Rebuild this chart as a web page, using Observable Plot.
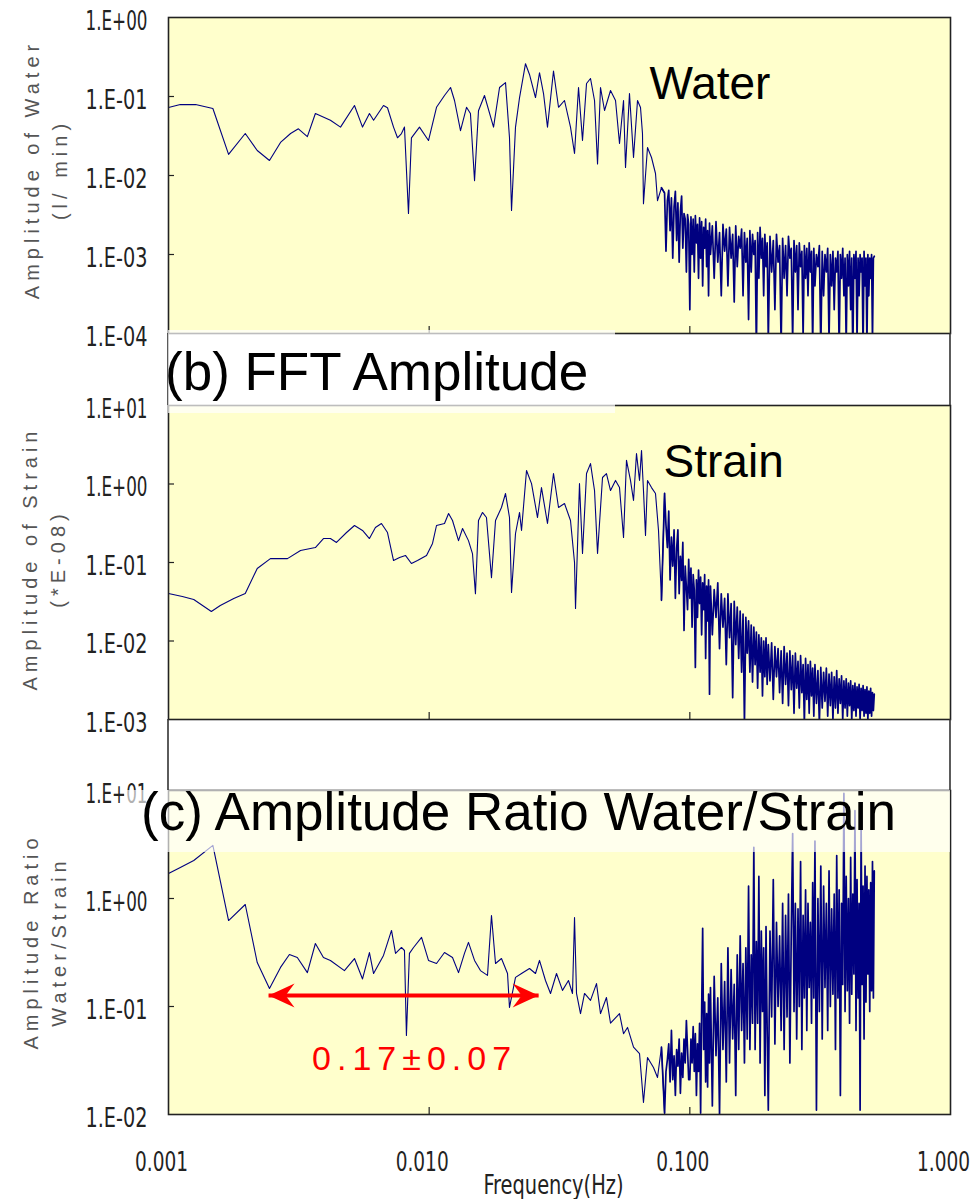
<!DOCTYPE html>
<html><head><meta charset="utf-8">
<script src="https://cdn.jsdelivr.net/npm/d3@7"></script>
<script src="https://cdn.jsdelivr.net/npm/@observablehq/plot@0.6"></script>
<style>
body{margin:0;background:#fff;}
#chart{position:relative;width:970px;height:1199px;overflow:hidden;background:#fff;}
#chart svg{position:absolute;left:0;overflow:visible;}
</style></head><body><div id="chart"></div>
<script>
// ---------- axes ----------
const xTickValues = [0.001, 0.01, 0.1, 1];
const xInnerTicks = [0.01, 0.1];
const waterTicks = [1e-4, 1e-3, 1e-2, 1e-1, 1];
const strainTicks = [1e-3, 1e-2, 1e-1, 1, 10];
const ratioTicks = [1e-2, 1e-1, 1, 10];

// ---------- low / mid frequency part (Hz, amplitude) ----------
const waterLow = [[0.00100,0.0726],[0.00111,0.079],[0.00127,0.079],[0.00148,0.0705],[0.00170,0.0185],[0.00197,0.034],[0.00219,0.0207],[0.00244,0.0155],[0.00269,0.0262],[0.00294,0.034],[0.00315,0.039],[0.00341,0.031],[0.00366,0.061],[0.00418,0.050],[0.00457,0.041],[0.00517,0.077],[0.00555,0.041],[0.00590,0.061],[0.00612,0.050],[0.00668,0.077],[0.00692,0.072],[0.00730,0.041],[0.00756,0.030],[0.00783,0.034],[0.00804,0.041],[0.00833,0.0033],[0.00855,0.030],[0.00918,0.041],[0.00994,0.0277],[0.01067,0.073],[0.01145,0.103],[0.01208,0.13],[0.01251,0.089],[0.01319,0.037],[0.01391,0.073],[0.01440,0.061],[0.01493,0.0086],[0.01546,0.066],[0.01630,0.103],[0.01766,0.041],[0.01862,0.13],[0.01963,0.150],[0.02033,0.030],[0.02070,0.0036],[0.02144,0.041],[0.02222,0.097],[0.02342,0.26],[0.02426,0.19],[0.02558,0.097],[0.02650,0.20],[0.02746,0.109],[0.02844,0.041],[0.02999,0.21],[0.03135,0.073],[0.03305,0.089],[0.03485,0.041],[0.03611,0.019],[0.03741,0.13],[0.03875,0.0277],[0.04015,0.146],[0.04159,0.169],[0.04309,0.089],[0.04425,0.014],[0.04543,0.13],[0.04707,0.0665],[0.04963,0.119],[0.05187,0.089],[0.05373,0.0254],[0.05567,0.089],[0.05666,0.0126],[0.05868,0.109],[0.06081,0.0169],[0.06299,0.089],[0.06468,0.0726],[0.06582,0.034],[0.06640,0.0044],[0.06880,0.0226],[0.07128,0.0169],[0.07384,0.0106],[0.07516,0.0048],[0.07784,0.0070]];

const strainLow = [[0.00100,0.0403],[0.00113,0.0369],[0.00125,0.0338],[0.00146,0.0238],[0.00158,0.0283],[0.00178,0.0348],[0.00197,0.0403],[0.00219,0.084],[0.00246,0.112],[0.00286,0.112],[0.00321,0.142],[0.00366,0.155],[0.00393,0.202],[0.00418,0.202],[0.00441,0.180],[0.00482,0.241],[0.00517,0.296],[0.00555,0.256],[0.00590,0.202],[0.00622,0.279],[0.00656,0.314],[0.00692,0.241],[0.00730,0.106],[0.00770,0.116],[0.00811,0.123],[0.00855,0.097],[0.00902,0.106],[0.00977,0.123],[0.01030,0.175],[0.01067,0.296],[0.01145,0.314],[0.01187,0.421],[0.01229,0.343],[0.01296,0.19],[0.01343,0.271],[0.01415,0.19],[0.01466,0.130],[0.01505,0.040],[0.01546,0.343],[0.01601,0.434],[0.01659,0.374],[0.01734,0.064],[0.01797,0.343],[0.01894,0.502],[0.01963,0.757],[0.02033,0.374],[0.02070,0.0415],[0.02144,0.234],[0.02222,0.434],[0.02261,0.256],[0.02363,1.486],[0.02470,1.01],[0.02604,0.374],[0.02697,0.90],[0.02844,0.314],[0.02999,1.36],[0.03135,0.502],[0.03305,0.565],[0.03485,0.343],[0.03611,0.10],[0.03643,0.026],[0.03773,1.01],[0.03875,0.130],[0.04015,1.36],[0.04159,1.82],[0.04309,0.826],[0.04425,0.13],[0.04624,1.21],[0.04788,1.36],[0.04963,0.826],[0.05187,1.11],[0.05373,0.90],[0.05567,0.208],[0.05715,2.0],[0.05920,1.11],[0.06081,0.617],[0.06243,2.45],[0.06412,1.11],[0.06526,2.67],[0.06640,0.826],[0.06760,0.221],[0.06880,1.11],[0.07128,0.90],[0.07384,0.757],[0.07583,0.256],[0.07784,0.033]];

const ratioLow = [[0.00100,1.70],[0.00111,1.94],[0.00125,2.25],[0.00148,3.10],[0.00170,0.625],[0.00197,0.88],[0.00219,0.255],[0.00244,0.147],[0.00269,0.23],[0.00291,0.303],[0.00312,0.284],[0.00341,0.206],[0.00366,0.383],[0.00393,0.284],[0.00418,0.267],[0.00473,0.215],[0.00517,0.278],[0.00555,0.18],[0.00590,0.316],[0.00612,0.202],[0.00668,0.297],[0.00717,0.506],[0.00743,0.31],[0.00783,0.352],[0.00804,0.33],[0.00818,0.054],[0.00840,0.31],[0.00871,0.352],[0.00935,0.436],[0.00994,0.267],[0.01067,0.25],[0.01145,0.316],[0.01229,0.284],[0.01296,0.206],[0.01366,0.31],[0.01415,0.392],[0.01493,0.267],[0.01573,0.215],[0.01674,0.194],[0.01734,0.697],[0.01797,0.25],[0.01894,0.278],[0.01998,0.202],[0.02033,0.098],[0.02144,0.186],[0.02261,0.202],[0.02426,0.225],[0.02558,0.202],[0.02650,0.267],[0.02794,0.174],[0.02921,0.132],[0.03080,0.202],[0.03247,0.141],[0.03423,0.174],[0.03547,0.132],[0.03611,0.667],[0.03675,0.132],[0.03807,0.086],[0.03945,0.132],[0.04159,0.114],[0.04385,0.163],[0.04543,0.086],[0.04788,0.121],[0.04963,0.070],[0.05373,0.086],[0.05567,0.056],[0.05767,0.064],[0.06081,0.042],[0.06412,0.0367],[0.06640,0.0129],[0.06880,0.0337],[0.07253,0.0272],[0.07516,0.022],[0.07784,0.042]];

// ---------- high frequency part: shared frequency bins (Hz) ----------
const highF = [
0.080,0.081,0.082,0.083,0.084,0.085,0.086,0.087,0.088,0.089,
0.090,0.091,0.092,0.093,0.094,0.095,0.096,0.097,0.098,0.099,
0.100,0.101,0.102,0.103,0.104,0.105,0.106,0.107,0.108,0.109,
0.110,0.111,0.112,0.113,0.114,0.115,0.116,0.117,0.118,0.119,
0.120,0.122,0.124,0.126,0.128,0.130,0.132,0.134,0.136,0.138,
0.140,0.142,0.144,0.146,0.148,0.150,0.152,0.154,0.156,0.158,
0.160,0.162,0.164,0.166,0.168,0.170,0.172,0.174,0.176,0.178,
0.180,0.182,0.184,0.186,0.188,0.190,0.192,0.194,0.196,0.198,
0.200,0.203,0.206,0.209,0.212,0.215,0.218,0.221,0.224,0.227,
0.230,0.233,0.236,0.239,0.242,0.245,0.248,0.251,0.254,0.257,
0.260,0.263,0.266,0.269,0.272,0.275,0.278,0.281,0.284,0.287,
0.290,0.293,0.296,0.299,0.302,0.306,0.310,0.314,0.318,0.322,
0.326,0.330,0.334,0.338,0.342,0.346,0.350,0.354,0.358,0.362,
0.366,0.370,0.374,0.378,0.382,0.386,0.390,0.394,0.398,0.402,
0.406,0.410,0.414,0.418,0.422,0.426,0.430,0.434,0.438,0.442,
0.446,0.450,0.454,0.458,0.462,0.466,0.470,0.474,0.478,0.482,
0.486,0.490,0.494,0.498,0.502,0.506,0.510];

const waterHigh = [
0.0060,0.0011,0.0048,0.0065,0.0020,0.0052,0.0009,0.0040,0.0063,0.0015,
0.0045,0.0008,0.0035,0.0055,0.0012,0.0033,0.0028,0.0006,0.0032,0.0024,
0.0002,0.0030,0.0010,0.0028,0.0006,0.0031,0.0014,0.0024,0.0005,0.0029,
0.0009,0.0026,0.0004,0.0022,0.0012,0.0028,0.0007,0.0020,0.0003,0.0025,
0.0010,0.0023,0.0005,0.0026,0.0008,0.0019,0.0003,0.0024,0.0011,0.0021,
0.0004,0.0022,0.0009,0.0018,0.00025,0.0023,0.0007,0.0017,0.0012,0.0021,
0.0003,0.0019,0.0008,0.0016,0.00015,0.0020,0.0006,0.0018,0.0010,0.0015,
0.00006,0.0019,0.0005,0.0022,0.0009,0.0016,0.0003,0.0018,0.0007,0.0014,
0.00008,0.0017,0.0006,0.0015,0.0002,0.0018,0.0008,0.0013,0.00007,0.0016,
0.0005,0.0013,0.0003,0.0017,0.0009,0.0012,0.00008,0.0015,0.0006,0.0013,
0.0002,0.0014,0.0007,0.0011,0.00009,0.0013,0.0005,0.0012,0.0003,0.0014,
0.0006,0.0011,0.00007,0.0012,0.0004,0.0010,0.0007,0.0013,0.00006,0.0011,
0.0003,0.0010,0.0006,0.0012,0.00008,0.0010,0.0004,0.0011,0.0002,0.0009,
0.0006,0.0011,0.00006,0.0010,0.0005,0.0012,0.0003,0.0009,0.00007,0.0010,
0.0004,0.0011,0.0002,0.0009,0.00005,0.0010,0.0005,0.0011,0.00008,0.0009,
0.0003,0.0010,0.0006,0.0009,0.00006,0.0011,0.0004,0.0009,0.00007,0.0010,
0.0003,0.0009,0.0005,0.0010,0.00008,0.0009,0.00095];

const strainHigh = [
0.76,0.30,0.155,0.45,0.06,0.21,0.09,0.26,0.035,0.15,
0.26,0.04,0.12,0.059,0.18,0.0136,0.09,0.048,0.025,0.11,
0.035,0.085,0.015,0.07,0.045,0.0046,0.06,0.02,0.08,0.03,
0.065,0.012,0.055,0.025,0.07,0.006,0.05,0.018,0.06,0.0021,
0.05,0.012,0.045,0.02,0.055,0.008,0.04,0.015,0.035,0.005,
0.04,0.011,0.03,0.0019,0.032,0.009,0.027,0.006,0.024,0.004,
0.022,0.0009,0.02,0.007,0.018,0.004,0.016,0.003,0.015,0.005,
0.013,0.0025,0.012,0.004,0.011,0.002,0.010,0.0035,0.011,0.0028,
0.009,0.0031,0.0095,0.0018,0.0085,0.0035,0.0080,0.0022,0.0075,0.0016,
0.0085,0.0028,0.007,0.0015,0.0075,0.0024,0.0065,0.0012,0.007,0.0025,
0.0055,0.0014,0.0065,0.0022,0.0050,0.0009,0.0060,0.0018,0.0050,0.0012,
0.0055,0.0020,0.0045,0.0011,0.0050,0.0016,0.0042,0.0009,0.0046,0.0014,
0.0040,0.0017,0.0045,0.0011,0.0038,0.0015,0.0040,0.0010,0.0035,0.0014,
0.0042,0.0012,0.0033,0.0016,0.0036,0.0010,0.0031,0.0014,0.0033,0.0011,
0.0029,0.0015,0.0031,0.0010,0.0027,0.0013,0.0029,0.0011,0.0026,0.0014,
0.0028,0.0010,0.0025,0.0013,0.0027,0.0011,0.0024,0.0012,0.0026,0.0010,
0.0023,0.0012,0.0025,0.0011,0.0022,0.0013,0.0021];

const ratioHigh = [
0.0103,0.025,0.032,0.045,0.02,0.06,0.021,0.035,0.015,0.04,
0.028,0.05,0.0157,0.037,0.022,0.05,0.03,0.074,0.04,0.021,
0.021,0.05,0.03,0.065,0.025,0.056,0.015,0.045,0.025,0.07,
0.0103,0.09,0.53,0.04,0.11,0.02,0.086,0.018,0.13,0.03,
0.15,0.012,0.19,0.035,0.12,0.01,0.25,0.04,0.17,0.02,
0.35,0.03,0.22,0.05,0.16,0.015,0.30,0.04,0.45,0.06,
0.25,0.03,0.35,0.05,1.3,0.04,0.30,0.07,2.97,0.04,
0.40,0.07,1.6,0.03,0.50,0.09,0.35,0.015,0.55,0.06,
0.011,0.5,0.08,1.5,0.045,0.6,0.1,0.45,0.06,0.9,
0.04,0.7,0.08,1.1,0.03,0.5,4.0,0.09,0.9,0.05,
0.8,0.10,2.2,0.04,0.7,0.12,1.2,0.06,0.9,0.15,
0.6,0.07,1.4,0.12,3.4,0.011,1.0,0.09,2.0,0.05,
1.3,0.15,0.9,0.06,1.8,0.10,0.8,0.13,1.1,0.04,
2.5,0.12,1.2,0.015,0.9,0.16,9.4,0.09,1.6,0.14,
1.0,0.07,2.4,0.13,1.1,0.2,6.5,0.06,1.5,0.12,
0.9,0.011,5.0,0.16,1.3,0.05,2.0,0.11,1.6,0.2,
1.2,0.09,1.4,0.14,2.2,0.12,1.8];

// ---------- annotations ----------
const labelWater = {text: "Water", f: 0.070, a: 0.144};
const labelStrain = {text: "Strain", f: 0.0793, a: 1.88};
const bandArrow = {f1: 0.00242, f2: 0.0263, a: 0.1265};
const bandNote = {text: "0.17±0.07", f: 0.00879, a: 0.0323};

// ---------- build ----------
function toRows(pairs) { return pairs.map(([f, a]) => ({f, a})); }
function highRows(hiA) {
  const out = [];
  const n = Math.min(highF.length, hiA.length);
  for (let i = 0; i < n; i++) out.push({f: highF[i], a: hiA[i]});
  return out;
}
const fmtE = d => { const e = Math.round(Math.log10(d)); return "1.E" + (e < 0 ? "-" : "+") + String(Math.abs(e)).padStart(2, "0"); };
const NAVY = "#000080", PANEL = "#ffffcc", INK = "#222";
const W = 970, LEFT = 168, RIGHT = 20;
const NARROW = '"Liberation Sans Narrow","DejaVu Sans Condensed",sans-serif';
const SANS = '"Liberation Sans",Arial,Helvetica,sans-serif';
const arrowHead = {draw(ctx) { ctx.moveTo(0, 0); ctx.lineTo(-26, -12); ctx.lineTo(-17, 0); ctx.lineTo(-26, 12); ctx.closePath(); }};

function panel({low, high, yDomain, yTicks, top, height, mTop, mBottom, title, titleDx, titleDy, extra = []}) {
  const plotW = W - LEFT - RIGHT, plotH = height - mTop - mBottom;
  const lowR = toRows(low), highR = highRows(high);
  const svg = Plot.plot({
    width: W, height, marginLeft: LEFT, marginRight: RIGHT, marginTop: mTop, marginBottom: mBottom,
    style: {fontFamily: NARROW, fontSize: "26px", color: INK, background: "transparent", overflow: "visible"},
    x: {type: "log", domain: [0.001, 1], axis: null},
    y: {type: "log", domain: yDomain, axis: null},
    marks: [
      Plot.frame({fill: PANEL, stroke: null}),
      Plot.line(lowR.concat(highR.slice(0, 1)), {x: "f", y: "a", stroke: NAVY, strokeWidth: 1.1, clip: true}),
      Plot.line(lowR.slice(-1).concat(highR), {x: "f", y: "a", stroke: NAVY, strokeWidth: 1.7, clip: true}),
      Plot.ruleY(yTicks.slice(1, -1), {stroke: INK, strokeWidth: 1.2, insetRight: plotW - 6}),
      Plot.ruleX(xInnerTicks, {stroke: INK, strokeWidth: 1.2, insetTop: plotH - 7}),
      Plot.frame({stroke: INK, strokeWidth: 1.6}),
      Plot.axisY(yTicks, {tickSize: 0, tickPadding: 21, tickFormat: fmtE, label: null, dy: 4, fill: INK}),
      Plot.text([title], {text: d => d, frameAnchor: "left", textAnchor: "middle", rotate: -90, dx: titleDx, dy: titleDy,
        lineHeight: 1.4, fontSize: 20, fontFamily: SANS, fill: "#555"}),
      ...extra
    ]
  });
  svg.style.top = top + "px";
  // text fitting: condensed tick labels, spaced axis titles
  svg.querySelectorAll("text").forEach(t => {
    const s = t.textContent;
    if (/^1\.E[+-]\d\d$/.test(s)) { t.setAttribute("textLength", 62); t.setAttribute("lengthAdjust", "spacingAndGlyphs"); }
    else if (/^\d\.\d{3}$/.test(s)) { t.setAttribute("textLength", 53); t.setAttribute("lengthAdjust", "spacingAndGlyphs"); }
    else if (s === "Frequency(Hz)") { t.setAttribute("textLength", 140); t.setAttribute("lengthAdjust", "spacingAndGlyphs"); }
    else if (s.startsWith("Amplitude")) { t.setAttribute("letter-spacing", "5"); }
    else if (s === bandNote.text) { t.setAttribute("letter-spacing", "6"); }
  });
  return svg;
}

const chart = document.getElementById("chart");

chart.appendChild(panel({
  low: waterLow, high: waterHigh, yDomain: [1e-4, 1], yTicks: waterTicks,
  top: 0, height: 360, mTop: 17, mBottom: 27,
  title: "Amplitude of Water\n(l/ min)", titleDx: -124, titleDy: -6,
  extra: [Plot.text([labelWater], {x: "f", y: "a", text: "text", textAnchor: "start", fontSize: 46, fontFamily: SANS, fill: "#000"})]
}));

chart.appendChild(panel({
  low: strainLow, high: strainHigh, yDomain: [1e-3, 10], yTicks: strainTicks,
  top: 380, height: 365, mTop: 25, mBottom: 26,
  title: "Amplitude of Strain\n(*E-08)", titleDx: -126, titleDy: -4,
  extra: [Plot.text([labelStrain], {x: "f", y: "a", text: "text", textAnchor: "start", fontSize: 46, fontFamily: SANS, fill: "#000"})]
}));

chart.appendChild(panel({
  low: ratioLow, high: ratioHigh, yDomain: [1e-2, 10], yTicks: ratioTicks,
  top: 760, height: 439, mTop: 30, mBottom: 85,
  title: "Amplitude Ratio\nWater/Strain", titleDx: -125, titleDy: -11,
  extra: [
    Plot.link([bandArrow], {x1: "f1", x2: "f2", y1: "a", y2: "a", stroke: "#ff0000", strokeWidth: 4}),
    Plot.dot([{f: bandArrow.f2, a: bandArrow.a, r: 0}, {f: bandArrow.f1, a: bandArrow.a, r: 180}],
      {x: "f", y: "a", rotate: "r", symbol: arrowHead, r: 10, fill: "#ff0000", stroke: null}),
    Plot.text([bandNote], {x: "f", y: "a", text: "text", fontSize: 34, fontFamily: SANS, fill: "#ff0000"}),
    Plot.axisX(xTickValues, {tickSize: 0, tickPadding: 38, tickFormat: d3.format(".3f"), label: null, dx: -7, fill: INK}),
    Plot.text(["Frequency(Hz)"], {text: d => d, frameAnchor: "bottom", lineAnchor: "top", dy: 61, dx: -6, fontSize: 26, fill: INK})
  ]
}));

// overlay: gap borders and the semi-transparent title boxes
const ns = "http://www.w3.org/2000/svg";
const ov = document.createElementNS(ns, "svg");
ov.setAttribute("width", W); ov.setAttribute("height", 1199);
ov.style.top = "0px"; ov.style.pointerEvents = "none";
ov.innerHTML = `
<g stroke="#333" stroke-width="1.6">
  <line x1="168" y1="333" x2="168" y2="405"/><line x1="950" y1="333" x2="950" y2="405"/>
  <line x1="168" y1="719" x2="168" y2="790"/><line x1="950" y1="719" x2="950" y2="790"/>
</g>
<rect x="168" y="330" width="447" height="83" fill="#fff" fill-opacity="0.7"/>
<text x="165" y="390" font-family='${SANS}' font-size="53" fill="#000">(b) FFT Amplitude</text>
<rect x="124" y="790" width="826" height="62" fill="#fff" fill-opacity="0.65"/>
<text x="141" y="830" font-family='${SANS}' font-size="53" fill="#000">(c) Amplitude Ratio Water/Strain</text>`;
chart.appendChild(ov);
</script></body></html>
